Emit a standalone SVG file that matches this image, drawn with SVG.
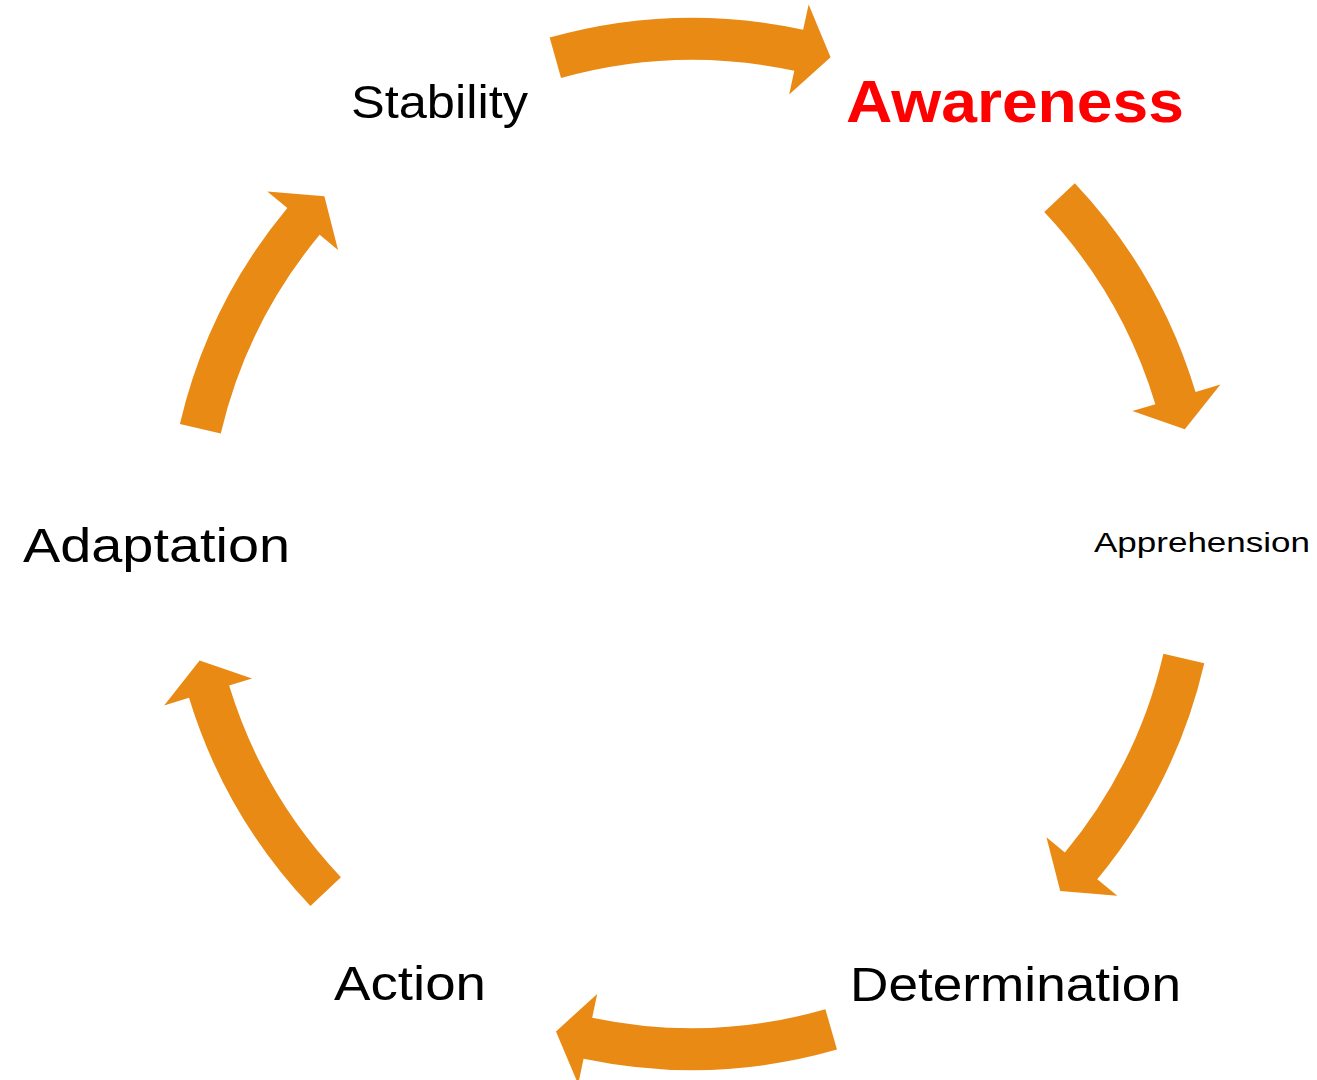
<svg xmlns="http://www.w3.org/2000/svg" xmlns:xlink="http://www.w3.org/1999/xlink" width="1317" height="1080" viewBox="0 0 1317 1080">
<style>
.arrow{fill:#E98A15;}
.lbl{font-family:"Liberation Sans","DejaVu Sans",sans-serif;fill:#000;}
.hl{font-family:"Liberation Sans","DejaVu Sans",sans-serif;font-weight:bold;fill:#FF0000;}
</style>
<defs>
<path id="arcLong" d="M692,18 A526,526 0 0 1 938.1,79.1 L950.3,56.1 L957.1,113.0 L907.2,137.5 L918.5,116.2 A484,484 0 0 0 692,60 Z"/>
<path id="arcShort" d="M692,18 A526,526 0 0 1 926.7,73.3 L938.3,50.0 L946.5,106.7 L897.3,132.3 L908.0,110.9 A484,484 0 0 0 692,60 Z"/>
</defs>
<rect width="1317" height="1080" fill="#fff"/>
<g id="connectors">
<use xlink:href="#arcLong" class="arrow" transform="rotate(-15.7 692 544)"/>
<use xlink:href="#arcShort" class="arrow" transform="rotate(46.7 692 544)"/>
<use xlink:href="#arcShort" class="arrow" transform="rotate(103.1 692 544)"/>
<use xlink:href="#arcLong" class="arrow" transform="rotate(164 692 544)"/>
<use xlink:href="#arcShort" class="arrow" transform="rotate(226.5 692 544)"/>
<use xlink:href="#arcShort" class="arrow" transform="rotate(283.2 692 544)"/>
</g>
<g id="stability"><text class="lbl" x="351" y="118" font-size="46" textLength="177" lengthAdjust="spacingAndGlyphs">Stability</text></g>
<g id="awareness"><text class="hl" x="846" y="122" font-size="60" textLength="338" lengthAdjust="spacingAndGlyphs">Awareness</text></g>
<g id="apprehension"><text class="lbl" x="1094" y="552" font-size="28" textLength="216" lengthAdjust="spacingAndGlyphs">Apprehension</text></g>
<g id="determination"><text class="lbl" x="850" y="1001" font-size="49" textLength="331" lengthAdjust="spacingAndGlyphs">Determination</text></g>
<g id="action"><text class="lbl" x="334" y="1000" font-size="49" textLength="152" lengthAdjust="spacingAndGlyphs">Action</text></g>
<g id="adaptation"><text class="lbl" x="23" y="562" font-size="49" textLength="267" lengthAdjust="spacingAndGlyphs">Adaptation</text></g>
</svg>
